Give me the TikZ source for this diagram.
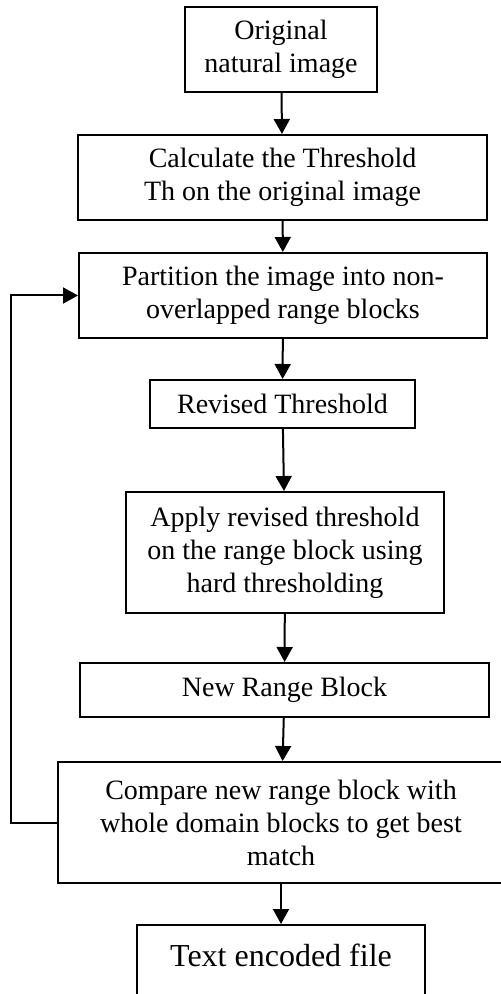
\documentclass[tikz,border=0pt]{standalone}
\usepackage{fontspec}
\setmainfont{Liberation Serif}
\usetikzlibrary{arrows.meta}

\begin{document}
\begin{tikzpicture}[x=0.5pt,y=-0.5pt,
  blk/.style={draw,line width=1pt,rectangle,align=center,inner sep=0pt,font=\fontsize{14}{16.5}\selectfont},
  arr/.style={line width=1pt,-{Triangle[length=7.5pt,width=8pt]}}]
  \useasboundingbox (0,0) rectangle (501,994);
  \clip (0,0) rectangle (501,994);
  \draw(281,49.5) node[blk,minimum width=96pt,minimum height=42.5pt] (orig) {Original\\natural image};
  \draw(282.5,177.5) node[blk,minimum width=204.5pt,minimum height=42.5pt] (calc) {Calculate the Threshold\\Th on the original image};
  \draw(283,295.5) node[blk,minimum width=204pt,minimum height=42.5pt] (part) {Partition the image into non-\\overlapped range blocks};
  \draw(282.5,404) node[blk,minimum width=132.5pt,minimum height=24pt] (rev) {Revised Threshold};
  \draw(285,552.5) node[blk,minimum width=159pt,minimum height=60.5pt] (apply) {Apply revised threshold\\on the range block using\\hard thresholding};
  \draw(284.5,690) node[blk,minimum width=204.5pt,minimum height=27pt] (newrb) {New Range Block};
  \draw(281,822.5) node[blk,minimum width=223pt,minimum height=60.5pt] (comp) {Compare new range block with\\whole domain blocks to get best\\match};
  \draw(281,924) node[blk,anchor=north,minimum width=144pt,text height=20.5pt,text depth=40pt,font=\fontsize{16}{19}\selectfont] (enc) {Text encoded file};
  \draw[arr] (orig) -- (calc);
  \draw[arr] (calc) -- (part);
  \draw[arr] (part) -- (rev);
  \draw[arr] (rev) -- (apply);
  \draw[arr] (apply) -- (newrb);
  \draw[arr] (newrb) -- (comp);
  \draw[arr] (comp) -- (enc);
  \draw[arr] (comp.west) -- (11,822.5) |- (part.west);
\end{tikzpicture}
\end{document}
